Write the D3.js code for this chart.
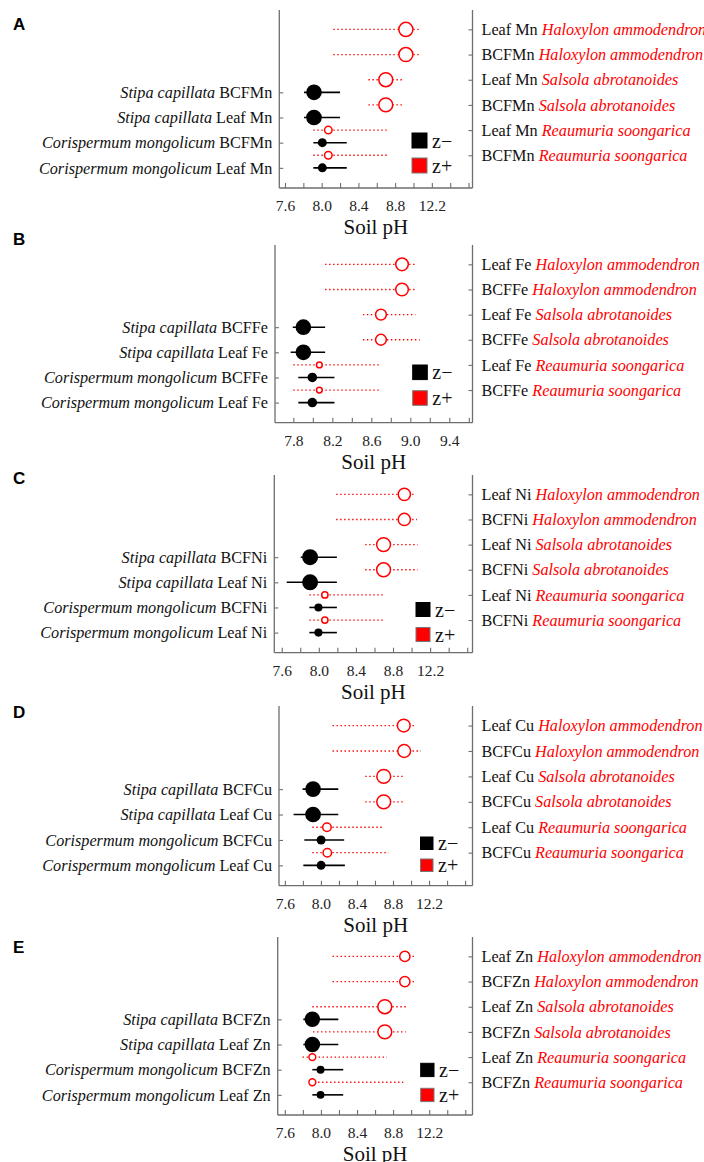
<!DOCTYPE html>
<html><head><meta charset="utf-8">
<script src="https://cdn.jsdelivr.net/npm/d3@7"></script>
<style>
html,body{margin:0;padding:0;background:#fff;}
svg{display:block;}
</style></head>
<body>
<svg id="chart" width="704" height="1162"></svg>
<script>
// ---------- DATA ----------
const panelLetters = ["A", "B", "C", "D", "E"];
const metals = ["Mn", "Fe", "Ni", "Cu", "Zn"];

// z- (declining) taxa, listed top to bottom
const minusSpecies = ["Stipa capillata", "Stipa capillata", "Corispermum mongolicum", "Corispermum mongolicum"];
const minusVar = ["BCF", "Leaf ", "BCF", "Leaf "];
// z+ (increasing) taxa, listed top to bottom
const plusSpecies = ["Haloxylon ammodendron", "Haloxylon ammodendron", "Salsola abrotanoides", "Salsola abrotanoides", "Reaumuria soongarica", "Reaumuria soongarica"];
const plusVar = ["Leaf ", "BCF", "Leaf ", "BCF", "Leaf ", "BCF"];

// change points (soil pH) and 5%-95% quantiles, one row per panel
const minusCP = [
  [7.916, 7.916, 8.007, 8.007],
  [7.903, 7.903, 7.995, 7.995],
  [7.906, 7.906, 7.996, 7.996],
  [7.913, 7.913, 8.002, 8.002],
  [7.905, 7.905, 7.996, 7.996]
];
const minusLo = [
  [7.807, 7.807, 7.909, 7.909],
  [7.794, 7.773, 7.851, 7.851],
  [7.805, 7.654, 7.898, 7.898],
  [7.797, 7.697, 7.816, 7.805],
  [7.805, 7.805, 7.905, 7.905]
];
const minusHi = [
  [8.200, 8.200, 8.273, 8.273],
  [8.126, 8.126, 8.222, 8.222],
  [8.195, 8.195, 8.195, 8.195],
  [8.193, 8.193, 8.258, 8.266],
  [8.193, 8.193, 8.247, 8.247]
];
const minusZ = [
  [8.7, 8.7, 5.0, 5.0],
  [8.7, 8.7, 5.3, 5.3],
  [8.9, 8.9, 4.5, 4.5],
  [8.7, 8.7, 5.0, 5.0],
  [8.6, 8.6, 4.4, 4.4]
];

const plusCP = [
  [8.917, 8.917, 8.698, 8.698, 8.072, 8.072],
  [8.915, 8.915, 8.699, 8.699, 8.067, 8.067],
  [8.922, 8.922, 8.698, 8.698, 8.065, 8.065],
  [8.919, 8.924, 8.697, 8.697, 8.067, 8.071],
  [8.930, 8.930, 8.708, 8.708, 7.905, 7.905]
];
const plusLo = [
  [8.127, 8.127, 8.509, 8.509, 7.909, 7.909],
  [8.126, 8.126, 8.514, 8.514, 7.800, 7.800],
  [8.187, 8.187, 8.500, 8.500, 7.898, 7.898],
  [8.129, 8.129, 8.492, 8.492, 7.905, 7.905],
  [8.129, 8.129, 7.905, 7.913, 7.797, 7.880]
];
const plusHi = [
  [9.073, 9.073, 8.898, 8.898, 8.709, 8.709],
  [9.052, 9.052, 9.052, 9.096, 8.685, 8.685],
  [9.023, 9.059, 9.066, 9.066, 8.692, 8.692],
  [9.056, 9.110, 8.913, 8.913, 8.697, 8.751],
  [9.056, 9.056, 8.941, 8.941, 8.733, 8.913]
];
const plusZ = [
  [7.8, 7.8, 7.7, 7.7, 4.2, 4.2],
  [7.0, 7.0, 6.0, 6.0, 3.2, 3.2],
  [6.8, 6.8, 7.7, 7.7, 3.5, 3.5],
  [7.1, 7.1, 7.7, 7.7, 4.7, 4.7],
  [5.7, 5.7, 7.7, 7.7, 3.8, 3.8]
];

// axis tick labels (as printed) and the values where they sit
const tickLabels = [
  ["7.6", "8.0", "8.4", "8.8", "12.2"],
  ["7.8", "8.2", "8.6", "9.0", "9.4"],
  ["7.6", "8.0", "8.4", "8.8", "12.2"],
  ["7.6", "8.0", "8.4", "8.8", "12.2"],
  ["7.6", "8.0", "8.4", "8.8", "12.2"]
];
const tickLabelValues = [
  [7.6, 8.0, 8.4, 8.8, 9.2],
  [7.8, 8.2, 8.6, 9.0, 9.4],
  [7.6, 8.0, 8.4, 8.8, 9.2],
  [7.6, 8.0, 8.4, 8.8, 9.2],
  [7.6, 8.0, 8.4, 8.8, 9.2]
];
const minorTickStart = [7.6, 7.8, 7.6, 7.6, 7.6];
const xDomains = [
  [7.538, 9.643],
  [7.612, 9.638],
  [7.520, 9.657],
  [7.535, 9.682],
  [7.521, 9.680]
];
const legendLabels = ["z\u2212", "z+"];
const xTitle = "Soil pH";

// ---------- LAYOUT ----------
const panelTop = [10, 245, 475, 706, 937];
const panelBottom = [188, 422.7, 652.7, 885.7, 1115];
const axisLeftX = [279.3, 275, 274.3, 279, 277.7];
const axisRightX = 472.5;
const letterY = [30, 245, 484, 718, 953];
const legendX = [412, 412.7, 416, 420.5, 420.7];
const legendY = [133, 365, 602.5, 837, 1063.3];
const legendSize = [15, 14.6, 14, 12.5, 13.3];
const legendGap = [25, 25.7, 25, 22, 25];

const SERIF = '"Liberation Serif", "Times New Roman", Times, serif';
const SANS = '"Liberation Sans", Arial, Helvetica, sans-serif';
const axisColor = "#6e6e6e";
const red = "#ff0000";

const svg = d3.select("#chart");
const rScale = d3.scaleLinear().domain([0, 10]).range([0, 9]);

panelLetters.forEach((letter, p) => {
  const g = svg.append("g");
  const top = panelTop[p], bottom = panelBottom[p];
  const x = d3.scaleLinear().domain(xDomains[p]).range([axisLeftX[p], axisRightX]);
  const y = d3.scaleLinear().domain([-0.77, 6.3]).range([top, bottom]);
  const metal = metals[p];

  // panel letter
  g.append("text").style("font-family", SANS).attr("x", 13).attr("y", letterY[p])
    .style("font-weight", "bold").style("font-size", "17px")
    .attr("fill", "#000").text(letter);

  const minusIdx = minusSpecies.map((_, j) => j + 2.5);
  const plusIdx = plusSpecies.map((_, i) => i);

  // left axis
  const left = g.append("g").attr("transform", `translate(${axisLeftX[p]},0)`)
    .call(d3.axisLeft(y).tickValues(minusIdx).tickSize(-4).tickFormat(""));
  left.select(".domain").attr("d", `M0,${top}V${bottom}`);
  // right axis
  const right = g.append("g").attr("transform", `translate(${axisRightX},0)`)
    .call(d3.axisRight(y).tickValues(plusIdx).tickSize(-4).tickFormat(""));
  right.select(".domain").attr("d", `M0,${top}V${bottom}`);
  // bottom axis (minor ticks every 0.2)
  const minor = d3.range(0, 11).map(k => +(minorTickStart[p] + k * 0.2).toFixed(1))
    .filter(v => x(v) <= axisRightX - 1);
  const bottomAx = g.append("g").attr("transform", `translate(0,${bottom})`)
    .call(d3.axisBottom(x).tickValues(minor).tickSize(-5).tickPadding(12)
      .tickFormat(v => {
        const k = tickLabelValues[p].findIndex(t => Math.abs(t - v) < 1e-6);
        return k >= 0 ? tickLabels[p][k] : "";
      }));
  bottomAx.select(".domain").attr("d", `M${axisLeftX[p]},0H${axisRightX}`);
  [left, right, bottomAx].forEach(a => {
    a.attr("font-family", null).attr("font-size", null);
    a.selectAll(".domain").attr("stroke", axisColor).attr("stroke-width", 1.3);
    a.selectAll(".tick line").attr("stroke", axisColor).attr("stroke-width", 1.1);
  });
  bottomAx.selectAll(".tick text").style("font-family", SERIF).style("font-size", "15.5px")
    .attr("fill", "#222");

  // axis title
  g.append("text").style("font-family", SERIF).attr("x", (axisLeftX[p] + axisRightX) / 2)
    .attr("y", bottom + 46).attr("text-anchor", "middle")
    .style("font-size", "21px").attr("fill", "#111").text(xTitle);

  // left labels
  minusSpecies.forEach((sp, j) => {
    const t = g.append("text").style("font-family", SERIF).attr("x", axisLeftX[p] - 7).attr("y", y(minusIdx[j]))
      .attr("dy", "0.35em").attr("text-anchor", "end")
      .style("font-size", "16.2px").attr("fill", "#111");
    t.append("tspan").style("font-style", "italic").text(sp + " ");
    t.append("tspan").text(minusVar[j] + metal);
  });
  // right labels
  plusSpecies.forEach((sp, i) => {
    const t = g.append("text").style("font-family", SERIF).attr("x", axisRightX + 9).attr("y", y(plusIdx[i]))
      .attr("dy", "0.35em").attr("text-anchor", "start")
      .style("font-size", "16.2px").attr("fill", "#111");
    t.append("tspan").text(plusVar[i] + metal + " ");
    t.append("tspan").style("font-style", "italic").attr("fill", red).text(sp);
  });

  // z+ error bars (dotted red) and open circles
  g.append("g").selectAll("line").data(plusIdx).join("line")
    .attr("x1", i => x(plusLo[p][i])).attr("x2", i => x(plusHi[p][i]))
    .attr("y1", i => y(i)).attr("y2", i => y(i))
    .attr("stroke", red).attr("stroke-width", 1.3).attr("stroke-dasharray", "1.4,2.6");
  g.append("g").selectAll("circle").data(plusIdx).join("circle")
    .attr("cx", i => x(plusCP[p][i])).attr("cy", i => y(i))
    .attr("r", i => rScale(plusZ[p][i]))
    .attr("fill", "#fff").attr("stroke", red).attr("stroke-width", 1.5);

  // z- error bars (solid black) and filled circles
  g.append("g").selectAll("line").data(minusIdx).join("line")
    .attr("x1", (d, j) => x(minusLo[p][j])).attr("x2", (d, j) => x(minusHi[p][j]))
    .attr("y1", d => y(d)).attr("y2", d => y(d))
    .attr("stroke", "#000").attr("stroke-width", 1.6);
  g.append("g").selectAll("circle").data(minusIdx).join("circle")
    .attr("cx", (d, j) => x(minusCP[p][j])).attr("cy", d => y(d))
    .attr("r", (d, j) => rScale(minusZ[p][j])).attr("fill", "#000");

  // legend
  const s = legendSize[p];
  legendLabels.forEach((lab, k) => {
    const ly = legendY[p] + k * legendGap[p];
    g.append("rect").attr("x", legendX[p]).attr("y", ly).attr("width", s).attr("height", s)
      .attr("fill", k === 0 ? "#000" : red).attr("stroke", k === 0 ? "#000" : "#777")
      .attr("stroke-width", 1);
    g.append("text").style("font-family", SERIF).attr("x", legendX[p] + s + 5).attr("y", ly + s / 2)
      .attr("dy", "0.35em").style("font-size", "20px")
      .attr("fill", "#111").text(lab);
  });
});
</script>
</body></html>
